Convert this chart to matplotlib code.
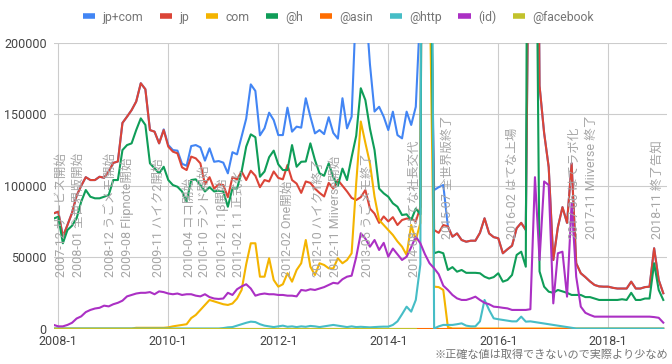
import numpy as np
import matplotlib.pyplot as plt
from matplotlib.lines import Line2D

plt.rcParams['font.family'] = ['Roboto', 'Noto Sans CJK JP', 'DejaVu Sans']

# monthly counts, 2007-12 .. 2019-01 (one row per year, first row = 2007-12 only)
jp_com = [80700,
    81800, 64300, 72500, 81000, 93000, 100000, 106000, 104000, 104000, 106300, 105600, 110000,
    116000, 117000, 144000, 148400, 153000, 159000, 171800, 167600, 139000, 137900, 129700, 139500,
    128500, 125000, 124600, 115400, 114000, 127800, 128500, 126900, 117600, 126200, 116800, 117300,
    116200, 108700, 123500, 122000, 134400, 147000, 171000, 166400, 135300, 140300, 151200, 146000,
    135500, 135500, 154700, 137900, 141400, 140700, 161300, 148400, 136700, 139000, 136200, 148000,
    137000, 133000, 161300, 140200, 148400, 230000, 250000, 230000, 185000, 152000, 155300, 148400,
    139000, 151900, 135500, 133200, 151900, 142600, 155300, 225000, 1500000, 300000, 97000, 99000,
    100500, 71500, 64300, 66600, 62000, 60800, 61500, 61500, 67000, 77200, 66600, 64000,
    63200, 52700, 55500, 58000, 70200, 74000, 69000, 400000, 600000, 170000, 137000, 113000,
    48000, 71000, 85000, 74000, 115700, 45700, 38700, 36000, 33000, 30500, 29500, 29300,
    29300, 28500, 28000, 28000, 28000, 32800, 28000, 28000, 29000, 29300, 56200, 34000,
    24700]
jp = [80700,
    81800, 64300, 72500, 81000, 93000, 100000, 106000, 104000, 104000, 106300, 105600, 110000,
    116000, 117000, 144000, 148400, 153000, 159000, 171800, 167600, 139000, 137900, 129700, 139000,
    127400, 123900, 122700, 112900, 111000, 120400, 119200, 115700, 101000, 106000, 98000, 101000,
    100500, 92000, 106000, 104500, 110000, 104000, 110500, 107000, 99000, 104000, 103000, 110000,
    105500, 104500, 114500, 104000, 101500, 95000, 103000, 102000, 98000, 95000, 92500, 102000,
    98000, 104000, 100000, 96000, 91500, 90000, 92000, 97000, 84000, 80500, 74000, 78500,
    75000, 78000, 72500, 76000, 77000, 77000, 75000, 85000, 800000, 350000, 69000, 67000,
    72500, 71500, 64300, 66600, 62000, 60800, 61500, 61500, 67000, 77200, 66600, 64000,
    63200, 52700, 55500, 58000, 70200, 74000, 69000, 400000, 600000, 170000, 137000, 113000,
    48000, 71000, 85000, 74000, 115700, 45700, 38700, 36000, 33000, 30500, 29500, 29300,
    29300, 28500, 28000, 28000, 28000, 32800, 28000, 28000, 29000, 29300, 56200, 34000,
    24700]
com = [0,
    0, 0, 0, 0, 0, 0, 0, 0, 0, 0, 0, 0,
    0, 0, 0, 0, 0, 500, 500, 500, 500, 500, 500, 500,
    800, 1500, 2000, 2500, 3000, 7300, 9500, 13000, 16500, 20000, 19000, 18000,
    17000, 16500, 17500, 21000, 27000, 45000, 59700, 59700, 36300, 36300, 49200, 34000,
    29300, 31000, 38700, 32800, 41000, 45700, 62000, 43300, 37500, 45700, 44500, 42200,
    42000, 49200, 45700, 48000, 52700, 101700, 145000, 130000, 115700, 92300, 76000, 72500,
    69000, 65500, 61000, 57300, 51500, 72500, 62000, 73900, 1200000, 250000, 29300, 29000,
    27000, 1000, 0, 0, 0, 0, 0, 0, 0, 0, 0, 0,
    0, 0, 0, 0, 0, 0, 0, 0, 0, 0, 0, 0,
    0, 0, 0, 0, 0, 0, 0, 0, 0, 0, 0, 0,
    0, 0, 0, 0, 0, 0, 0, 0, 0, 0, 0, 0,
    0]
at_h = [77000,
    78300, 59700, 69000, 72000, 77200, 88800, 97000, 92300, 91200, 91200, 92300, 93500,
    104000, 104000, 125000, 128500, 129700, 139000, 147200, 142600, 115700, 112200, 108700, 113300,
    104000, 100500, 99300, 96000, 89000, 104000, 104500, 100500, 96000, 99000, 96000, 96500,
    96000, 85300, 98200, 98000, 110000, 127400, 136000, 134000, 106300, 110000, 120000, 124600,
    115000, 111000, 111000, 128500, 113300, 116800, 117000, 129700, 118000, 108700, 107000, 115700,
    106000, 100000, 112000, 104000, 120000, 135000, 168300, 160000, 140000, 125000, 98000, 94700,
    92300, 87700, 85300, 79500, 80000, 76000, 84000, 80000, 800000, 350000, 52700, 53800,
    52700, 41000, 43000, 39800, 41000, 39000, 39000, 39000, 38700, 36300, 35000, 36000,
    38700, 32800, 34000, 37500, 51500, 53800, 43300, 900000, 400000, 40000, 29300, 25800,
    25000, 27000, 26000, 25000, 23500, 23500, 23500, 22000, 22000, 21000, 20000, 20000,
    20000, 20000, 20000, 20500, 20000, 25000, 20000, 20000, 21000, 21000, 45700, 27000,
    20000]
at_asin = [0] * 134
at_http = [0,
    0, 0, 0, 0, 0, 0, 0, 0, 0, 0, 0, 0,
    0, 0, 0, 0, 0, 0, 0, 0, 0, 0, 0, 0,
    0, 0, 0, 0, 0, 0, 0, 0, 0, 0, 0, 0,
    300, 800, 1000, 2000, 3000, 4000, 4800, 4500, 3000, 2000, 1500, 1000,
    1500, 2000, 1200, 1500, 1000, 1500, 1200, 1800, 1500, 1000, 1500, 2000,
    2500, 2000, 1500, 1000, 1500, 1000, 1200, 1000, 800, 1000, 1200, 1300,
    1300, 2500, 5000, 10000, 15300, 11800, 20000, 45000, 1500000, 600000, 0, 1500,
    2500, 2500, 2500, 3000, 3600, 2000, 1500, 1500, 5000, 20000, 13000, 7100,
    6500, 6000, 5500, 5000, 5000, 8300, 4800, 5000, 4500, 4000, 3500, 3000,
    2500, 2000, 1500, 1000, 500, 0, 0, 0, 0, 0, 0, 0,
    0, 0, 0, 0, 0, 0, 0, 0, 0, 0, 0, 0,
    0]
id_ = [2500,
    1500, 1500, 2500, 4000, 7000, 8500, 11500, 13000, 14000, 14500, 16000, 15500,
    17000, 18000, 19500, 22500, 23500, 24500, 25000, 25000, 25500, 24000, 26000, 25500,
    24500, 24000, 24500, 23500, 24000, 24000, 23000, 22500, 24000, 22000, 21000, 20700,
    21000, 25000, 23500, 27500, 29500, 31000, 28000, 23000, 24000, 24500, 24000, 24000,
    23500, 23500, 23000, 23000, 22500, 27000, 26500, 27500, 27000, 28000, 29000, 30500,
    32000, 31500, 34500, 36300, 37000, 50000, 66700, 63000, 57300, 62000, 55000, 60000,
    50300, 56000, 52000, 48000, 50300, 57000, 64300, 59700, 52000, 45700, 42200, 38000,
    30000, 27000, 23500, 21100, 20000, 20000, 21000, 22300, 20000, 18000, 17000, 15300,
    15000, 14500, 14100, 13000, 13000, 13000, 13000, 13500, 106000, 48000, 103000, 100500,
    17600, 52700, 53800, 22300, 87700, 36300, 15300, 11000, 9500, 8300, 8300, 8300,
    8300, 8300, 8300, 8300, 8300, 8300, 8300, 8300, 8300, 8300, 8000, 7500,
    4100]
at_facebook = [0] * 80 + [None] * 54

series_names = ['jp+com', 'jp', 'com', '@h', '@asin', '@http', '(id)', '@facebook']
series_data = [jp_com, jp, com, at_h, at_asin, at_http, id_, at_facebook]
colors = ['#4285f4', '#db4437', '#f4b400', '#0f9d58', '#ff6d00', '#46bdc6', '#ab30c4', '#c2c22c']

tick_labels = ['2008-1', '2010-1', '2012-1', '2014-1', '2016-1', '2018-1']

events = ['2007-12 サービス開始', '2008-01 全世界版開始', '2008-12 うごメモ開始',
          '2009-08 Flipnote開始', '2009-11 ハイク2開始', '2010-04 ココ開始',
          '2010-10 ランド開始', '2010-12 1.1β開始', '2011-02 1.1 正式化',
          '2012-02 One開始', '2012-10 ハイク1終了', '2012-11 Miiverse開始',
          '2013-05 うごメモ終了', '2014-08 はてな社長交代', '2015-07 全世界版終了',
          '2016-02 はてな上場', '2017-06 はてラボ化', '2017-11 Miiverse 終了',
          '2018-11 終了告知']
# where google placed the vertical labels (month index, 0 = 2008-01)
event_x = [0.8, 4.3, 11.3, 15.0, 21.75, 28.7, 32.0, 35.7, 39.2, 49.9, 56.7, 60.4,
           67.4, 77.8, 85.0, 99.0, 112.7, 116.4, 130.6]
event_y = [36000] * 14 + [63000] * 5

months = np.arange(len(jp)) - 1

fig = plt.figure(figsize=(6.72, 3.64), dpi=100)
ax = fig.add_axes([53.7 / 672, 1 - 328.5 / 364, (666.5 - 53.7) / 672, 285.5 / 364])

for name, vals, c in zip(series_names, series_data, colors):
    y = np.array([np.nan if v is None else v for v in vals], dtype=float)
    ax.plot(months, y, color=c, lw=1.5, label=name, solid_joinstyle='round')

for txt, ex, ey in zip(events, event_x, event_y):
    ax.text(ex, ey, txt, rotation=90, ha='center', va='bottom', color='#a6a6a6', fontsize=9)

ax.set_xlim(-1, 132.7)
ax.set_ylim(0, 200000)
ax.set_yticks(np.arange(0, 200001, 50000))
ax.set_yticklabels([str(v) for v in range(0, 200001, 50000)])
ax.set_xticks([0, 24, 48, 72, 96, 120])
ax.set_xticklabels(tick_labels)
ax.tick_params(length=0, labelsize=9, colors='#444444', pad=5)
ax.grid(True, color='#cccccc', lw=0.8)
ax.set_axisbelow(True)
for s in ax.spines.values():
    s.set_visible(False)

handles = [Line2D([], [], color=c, lw=4, solid_capstyle='butt') for c in colors]
fig.legend(handles, series_names, loc='center', bbox_to_anchor=(338.5 / 672, 1 - 17 / 364), ncol=8,
           frameon=False, handlelength=1.0, handletextpad=0.6, columnspacing=1.35,
           fontsize=8.8, labelcolor='#757575')

fig.text(668 / 672, 1 - 355 / 364, '※正確な値は取得できないので実際より少なめ', ha='right', va='center',
         fontsize=8, color='#757575')

fig.savefig('out.png', dpi=100)
